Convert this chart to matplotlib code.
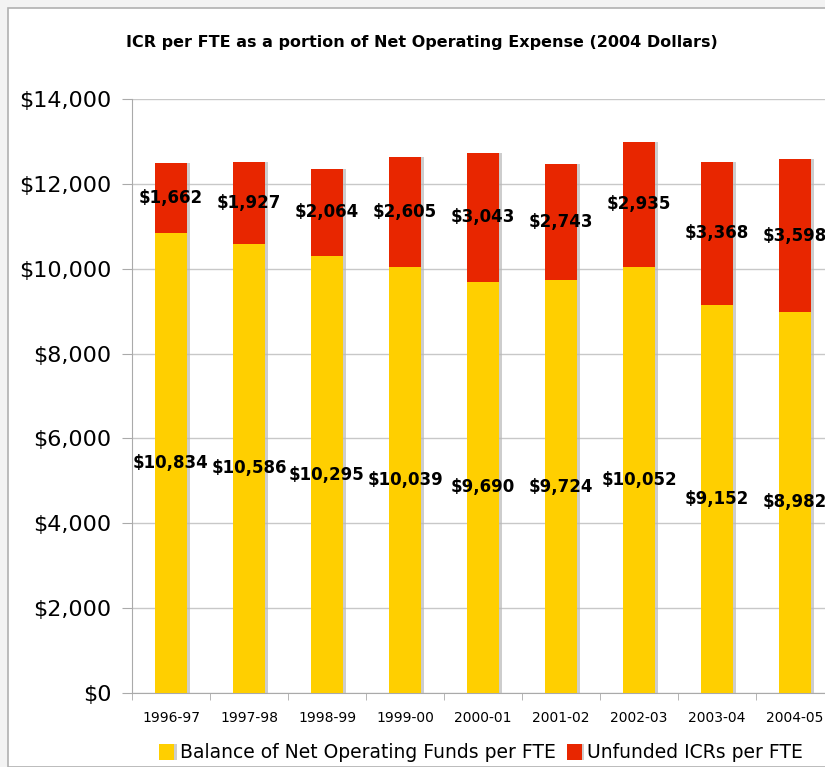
import matplotlib
matplotlib.use("Agg")
import matplotlib.pyplot as plt
import matplotlib.patheffects as pe
from matplotlib.patches import Rectangle
import numpy as np

years = ["1996-97", "1997-98", "1998-99", "1999-00", "2000-01",
         "2001-02", "2002-03", "2003-04", "2004-05"]
balance = [10834, 10586, 10295, 10039, 9690, 9724, 10052, 9152, 8982]
unfunded = [1662, 1927, 2064, 2605, 3043, 2743, 2935, 3368, 3598]

yellow = "#FFCF00"
red = "#E82600"

W, H = 825, 767
fig = plt.figure(figsize=(W / 100, H / 100), dpi=100, facecolor="#f3f3f3")
# white panel with thin border, like the window frame in the reference
fig.patches.append(Rectangle((8 / W, 0), 1.0, 1 - 8 / H, transform=fig.transFigure,
                             facecolor="white", edgecolor="#b0b0b0", lw=1.2, zorder=-10))

ax = fig.add_axes([132 / W, 1 - 693 / H, 702 / W, 594 / H])
ax.set_facecolor("none")

x = np.arange(len(years))
shadow = [pe.SimplePatchShadow(offset=(2, 0), shadow_rgbFace="#b8b8b8", alpha=0.7), pe.Normal()]
b1 = ax.bar(x, balance, width=0.41, color=yellow, label="Balance of Net Operating Funds per FTE",
            zorder=3, path_effects=shadow)
b2 = ax.bar(x, unfunded, width=0.41, bottom=balance, color=red, label="Unfunded ICRs per FTE",
            zorder=3, path_effects=shadow)

for i in range(len(years)):
    ax.text(x[i], balance[i] / 2, "${:,}".format(balance[i]), ha="center", va="center",
            fontsize=12, fontweight="bold", zorder=5)
    ax.text(x[i], balance[i] + unfunded[i] / 2, "${:,}".format(unfunded[i]), ha="center",
            va="center", fontsize=12, fontweight="bold", zorder=5)

ax.set_xlim(-0.5, len(years) - 0.5)
ax.set_ylim(0, 14000)
ax.set_yticks(range(0, 14001, 2000))
ax.set_yticklabels(["${:,}".format(v) for v in range(0, 14001, 2000)], fontsize=16)
ax.yaxis.grid(True, color="#c8c8c8", lw=1, zorder=0)
ax.set_axisbelow(True)

ax.set_xticks(x)
ax.set_xticklabels(years, fontsize=10)
ax.set_xticks(np.arange(-0.5, len(years), 1), minor=True)
ax.tick_params(axis="x", which="major", length=0, pad=13)
ax.tick_params(axis="x", which="minor", length=5, color="#aaaaaa")
ax.tick_params(axis="y", length=7, color="#aaaaaa", pad=8)

for s in ["top", "right"]:
    ax.spines[s].set_visible(False)
for s in ["left", "bottom"]:
    ax.spines[s].set_color("#aaaaaa")

fig.text(422 / W, 1 - 43 / H, "ICR per FTE as a portion of Net Operating Expense (2004 Dollars)",
         ha="center", va="center", fontsize=11.5, fontweight="bold")

fig.legend(handles=[b1, b2], loc="center", bbox_to_anchor=(481 / W, 1 - 753 / H), ncol=2,
           frameon=False, fontsize=13.5, handlelength=0.8, handleheight=1.0, handletextpad=0.3,
           columnspacing=0.6, borderaxespad=0)

fig.savefig("out.png", dpi=100, facecolor=fig.get_facecolor())
